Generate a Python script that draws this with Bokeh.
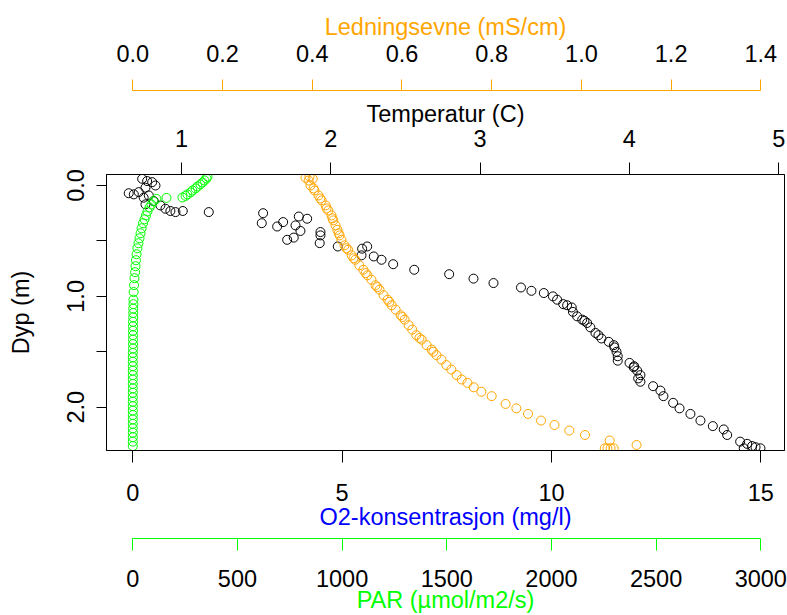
from bokeh.plotting import figure
from bokeh.models import Range1d, LinearAxis, FixedTicker, PrintfTickFormatter
from bokeh.embed import file_html
from bokeh.resources import INLINE

# ---------------- data ----------------
# Temperature (C) profile, black circles
temp_c = [0.737, 0.770, 0.804, 0.826, 0.759, 0.714, 0.681, 0.647, 0.781, 0.747,
          0.814, 0.759, 0.859, 0.893, 0.926, 0.960, 1.009, 1.183, 1.547, 1.538,
          1.641, 1.681, 1.708, 1.752, 1.786, 1.842, 1.797, 1.764, 1.931, 1.931,
          1.926, 2.047, 2.210, 2.244, 2.206, 2.288, 2.340, 2.418, 2.559, 2.793,
          2.956, 3.090, 3.274, 3.344, 3.427, 3.488, 3.516, 3.557, 3.614, 3.622,
          3.650, 3.684, 3.717, 3.739, 3.773, 3.813, 3.862, 3.896, 3.914, 3.922,
          3.922, 4.001, 4.029, 4.052, 4.074, 4.074, 4.159, 4.208, 4.228, 4.293,
          4.336, 4.409, 4.476, 4.559, 4.632, 4.655, 4.742, 4.789, 4.822, 4.845,
          4.878, 4.766, 3.583, 3.699, 3.793, 3.900, 4.032, 4.059]
temp_depth = [-0.06, -0.04, -0.03, 0.00, 0.02, 0.06, 0.08, 0.07, 0.09, 0.11,
              0.14, 0.17, 0.18, 0.21, 0.23, 0.24, 0.23, 0.24, 0.25, 0.34,
              0.37, 0.33, 0.49, 0.47, 0.28, 0.30, 0.41, 0.36, 0.42, 0.45,
              0.52, 0.55, 0.57, 0.55, 0.63, 0.64, 0.67, 0.71, 0.76, 0.80,
              0.84, 0.88, 0.92, 0.95, 0.97, 1.00, 1.03, 1.07, 1.10, 1.14,
              1.18, 1.21, 1.24, 1.28, 1.33, 1.38, 1.41, 1.44, 1.50, 1.54,
              1.58, 1.60, 1.64, 1.67, 1.71, 1.77, 1.81, 1.85, 1.90, 1.96,
              2.01, 2.06, 2.12, 2.17, 2.20, 2.25, 2.31, 2.33, 2.35, 2.36,
              2.37, 2.37, 1.08, 1.22, 1.35, 1.46, 1.63, 1.74]

# Conductivity (mS/cm) profile, orange circles
cond = [0.385, 0.394, 0.401, 0.392, 0.396, 0.403, 0.405, 0.414, 0.418, 0.421,
        0.430, 0.432, 0.436, 0.443, 0.445, 0.447, 0.452, 0.456, 0.459, 0.461,
        0.465, 0.472, 0.476, 0.480, 0.488, 0.492, 0.496, 0.505, 0.514, 0.519,
        0.523, 0.532, 0.541, 0.545, 0.550, 0.559, 0.568, 0.572, 0.577, 0.586,
        0.597, 0.601, 0.606, 0.615, 0.623, 0.632, 0.639, 0.644, 0.655, 0.666,
        0.670, 0.677, 0.688, 0.699, 0.710, 0.722, 0.733, 0.746, 0.760, 0.777,
        0.800, 0.831, 0.855, 0.881, 0.910, 0.940, 0.973, 1.008, 1.063, 1.123,
        1.052, 1.058, 1.065, 1.072]
cond_depth = [-0.07, -0.08, -0.06, -0.045, 0.00, 0.027, 0.045, 0.09, 0.117, 0.135,
              0.18, 0.207, 0.225, 0.27, 0.296, 0.315, 0.36, 0.40, 0.431, 0.45,
              0.49, 0.54, 0.566, 0.58, 0.63, 0.656, 0.67, 0.72, 0.76, 0.79,
              0.81, 0.85, 0.90, 0.917, 0.94, 0.99, 1.03, 1.05, 1.08, 1.12,
              1.17, 1.186, 1.21, 1.26, 1.30, 1.35, 1.375, 1.39, 1.44, 1.48,
              1.50, 1.53, 1.57, 1.62, 1.66, 1.71, 1.75, 1.78, 1.82, 1.86,
              1.90, 1.97, 2.01, 2.06, 2.12, 2.16, 2.21, 2.25, 2.30, 2.34,
              2.37, 2.37, 2.37, 2.37]

# PAR (umol/m2/s) profile, green circles
par = [357, 352, 343, 333, 323, 309, 300, 285, 276, 261,
       252, 237, 161, 113, 99, 89, 80, 70, 63, 56,
       49, 42, 37, 32, 27, 22, 18, 15, 13, 11,
       8, 6, 4, 3, 3, 2, 2, 2, 1, 1,
       1, 1, 1, 1, 1, 0, 0, 0, 0, 0,
       0, 0, 0, 0, 0, 0, 0, 0, 0, 0,
       0, 0, 0, 0, 0, 0, 0]
par_depth = [-0.08, -0.063, -0.045, -0.027, -0.009, 0.009, 0.027, 0.045, 0.063, 0.081,
             0.094, 0.108, 0.112, 0.121, 0.144, 0.171, 0.198, 0.234, 0.27, 0.305,
             0.341, 0.386, 0.431, 0.476, 0.521, 0.566, 0.62, 0.674, 0.728, 0.782,
             0.836, 0.899, 0.961, 1.03, 1.07, 1.11, 1.15, 1.19, 1.23, 1.27,
             1.31, 1.35, 1.39, 1.43, 1.47, 1.51, 1.55, 1.59, 1.63, 1.67,
             1.71, 1.75, 1.79, 1.83, 1.87, 1.91, 1.95, 1.99, 2.03, 2.07,
             2.11, 2.15, 2.19, 2.23, 2.27, 2.31, 2.35]

depth_ticks = [0, 1, 2]
depth_minor = [0.5, 1.5]
o2_ticks = [0, 5, 10, 15]
temp_ticks = [1, 2, 3, 4, 5]
cond_ticks = [0.0, 0.2, 0.4, 0.6, 0.8, 1.0, 1.2, 1.4]
par_ticks = [0, 500, 1000, 1500, 2000, 2500, 3000]

ORANGE = "#FFA500"
GREEN = "#00FF00"
BLUE = "#0000FF"
FONT = "Liberation Sans"
FS = "23.5px"

p = figure(width=787, height=615, output_backend="svg", toolbar_location=None,
           x_range=Range1d(-0.628, 15.566), y_range=Range1d(2.39, -0.099),
           x_axis_location=None, y_axis_location=None,
           min_border_left=106, min_border_right=3, min_border_top=174,
           min_border_bottom=164)
p.xgrid.visible = False
p.ygrid.visible = False
p.outline_line_color = "black"
p.outline_line_alpha = 1.0
p.outline_line_width = 1
p.background_fill_color = "white"
p.border_fill_color = "white"

p.extra_x_ranges = {
    "temp": Range1d(0.498, 5.039),
    "cond": Range1d(-0.0586, 1.4527),
    "par": Range1d(-125.6, 3113.2),
}


def style(ax, line_color, title_color, tick_out, lab_standoff, title_standoff):
    ax.axis_line_color = line_color
    ax.major_tick_line_color = line_color
    ax.major_tick_out = tick_out
    ax.major_tick_in = 0
    ax.minor_tick_line_color = None
    ax.major_label_text_font = FONT
    ax.major_label_text_font_size = FS
    ax.major_label_text_color = "black"
    ax.major_label_standoff = lab_standoff
    ax.axis_label_text_font = FONT
    ax.axis_label_text_font_size = FS
    ax.axis_label_text_font_style = "normal"
    ax.axis_label_text_color = title_color
    ax.axis_label_standoff = title_standoff


def spacer(range_name, at, gap):
    # an axis with one invisible tick that only reserves `gap` pixels
    ax = LinearAxis(x_range_name=range_name, ticker=FixedTicker(ticks=[at]),
                    major_label_overrides={at: ""})
    ax.axis_line_color = None
    ax.major_tick_line_color = "white"
    ax.major_tick_line_alpha = 0.01
    ax.minor_tick_line_color = None
    ax.major_tick_out = gap
    ax.major_tick_in = 0
    ax.major_label_standoff = 0
    ax.major_label_text_font_size = "1px"
    ax.major_label_text_alpha = 0.0
    return ax


# left: depth
yax = LinearAxis(ticker=FixedTicker(ticks=depth_ticks, minor_ticks=depth_minor),
                 formatter=PrintfTickFormatter(format="%.1f"), axis_label="Dyp (m)")
style(yax, "black", "black", 10, 12, 31)
yax.minor_tick_line_color = "black"
yax.minor_tick_out = 10
yax.minor_tick_in = 0
yax.major_label_orientation = "vertical"
p.add_layout(yax, "left")

# top inner: temperature
tax = LinearAxis(x_range_name="temp", ticker=FixedTicker(ticks=temp_ticks),
                 axis_label="Temperatur (C)")
style(tax, "black", "black", 12, 16, 0)
p.add_layout(tax, "above")
p.add_layout(spacer("temp", 0.55, 7), "above")

# top outer: conductivity
cax = LinearAxis(x_range_name="cond", ticker=FixedTicker(ticks=cond_ticks),
                 formatter=PrintfTickFormatter(format="%.1f"),
                 axis_label="Ledningsevne (mS/cm)", bounds=(0, 1.4))
style(cax, ORANGE, ORANGE, 11, 18, 2)
p.add_layout(cax, "above")

# bottom inner: O2
oax = LinearAxis(ticker=FixedTicker(ticks=o2_ticks), axis_label="O2-konsentrasjon (mg/l)")
style(oax, "black", BLUE, 12, 21, 0)
p.add_layout(oax, "below")
p.add_layout(spacer("par", -100, 6), "below")

# bottom outer: PAR
pax = LinearAxis(x_range_name="par", ticker=FixedTicker(ticks=par_ticks),
                 axis_label="PAR (\u00b5mol/m2/s)", bounds=(0, 3000))
style(pax, GREEN, GREEN, 12, 19, -3)
p.add_layout(pax, "below")

# data
p.scatter(temp_c, temp_depth, x_range_name="temp", marker="circle", size=9,
          fill_color=None, line_color="black", line_width=1)
p.scatter(cond, cond_depth, x_range_name="cond", marker="circle", size=9,
          fill_color=None, line_color=ORANGE, line_width=1)
p.scatter(par, par_depth, x_range_name="par", marker="circle", size=9,
          fill_color=None, line_color=GREEN, line_width=1)

open("out.html", "w").write(file_html(p, INLINE))
